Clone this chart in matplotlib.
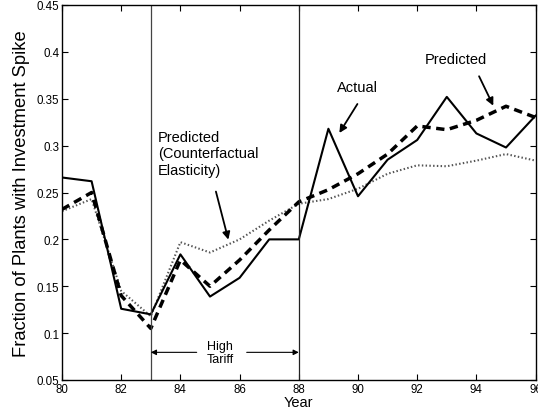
import matplotlib
matplotlib.use("Agg")
import matplotlib.pyplot as plt
from matplotlib.ticker import FixedLocator, FixedFormatter

plt.rcParams['font.family'] = ['Liberation Sans', 'DejaVu Sans']

years = [80, 81, 82, 83, 84, 85, 86, 87, 88, 89, 90, 91, 92, 93, 94, 95, 96]
actual = [0.266, 0.262, 0.126, 0.120, 0.184, 0.139, 0.159, 0.200, 0.200,
          0.318, 0.246, 0.285, 0.306, 0.352, 0.313, 0.298, 0.332]
predicted = [0.232, 0.250, 0.140, 0.105, 0.178, 0.150, 0.178, 0.210, 0.240,
             0.253, 0.270, 0.291, 0.321, 0.317, 0.327, 0.342, 0.330]
counterfactual = [0.230, 0.243, 0.145, 0.118, 0.197, 0.186, 0.200, 0.220, 0.238,
                  0.243, 0.254, 0.270, 0.279, 0.278, 0.284, 0.291, 0.284]

x_ticks = [80, 82, 84, 86, 88, 90, 92, 94, 96]
y_ticks = [0.05, 0.1, 0.15, 0.2, 0.25, 0.3, 0.35, 0.4, 0.45]
y_tick_labels = ["0.05", "0.1", "0.15", "0.2", "0.25", "0.3", "0.35", "0.4", "0.45"]
tariff_start, tariff_end = 83, 88

fig = plt.figure(figsize=(5.38, 4.14), dpi=100)
ax = fig.add_axes([62 / 538, 1 - 381 / 414, (535.6 - 62) / 538, (381 - 6) / 414])

ax.plot(years, counterfactual, color='#555555', lw=1.5, linestyle=(0, (0.7, 1.1)))
ax.plot(years, predicted, color='black', lw=2.5, linestyle=(0, (2.4, 1.6)))
ax.plot(years, actual, color='black', lw=1.5)

ax.axvline(tariff_start, color='#444444', lw=0.9)
ax.axvline(tariff_end, color='#222222', lw=0.9)

ax.set_xlim(80, 96)
ax.set_ylim(0.05, 0.45)
ax.xaxis.set_major_locator(FixedLocator(x_ticks))
ax.yaxis.set_major_locator(FixedLocator(y_ticks))
ax.yaxis.set_major_formatter(FixedFormatter(y_tick_labels))
ax.tick_params(direction='in', length=4, width=0.8, top=True, right=True,
               labelsize=8.3, pad=2)
for s in ax.spines.values():
    s.set_linewidth(1.0)

ax.set_xlabel("Year", fontsize=10.5, labelpad=0)
ax.set_ylabel("Fraction of Plants with Investment Spike", fontsize=13.2, labelpad=5)

arrow = dict(arrowstyle='-|>', color='black', lw=1.3, mutation_scale=11,
             shrinkA=0, shrinkB=0)
small_arrow = dict(arrowstyle='-|>', color='black', lw=0.8, mutation_scale=8,
                   shrinkA=0, shrinkB=0)

# High tariff period markers
ax.annotate("", xy=(tariff_start, 0.0795), xytext=(84.55, 0.0795), arrowprops=small_arrow)
ax.annotate("", xy=(tariff_end, 0.0795), xytext=(86.24, 0.0795), arrowprops=small_arrow)
ax.text(85.35, 0.0795, "High\nTariff", ha='center', va='center', fontsize=9,
        linespacing=1.15)

ax.text(83.25, 0.317, "Predicted\n(Counterfactual\nElasticity)", ha='left', va='top',
        fontsize=10.5, linespacing=1.25)
ax.annotate("", xy=(85.62, 0.1997), xytext=(85.2, 0.251), arrowprops=arrow)

ax.text(89.98, 0.362, "Actual", ha='center', va='center', fontsize=10.5)
ax.annotate("", xy=(89.37, 0.3135), xytext=(89.98, 0.3444), arrowprops=arrow)

ax.text(93.29, 0.3924, "Predicted", ha='center', va='center', fontsize=10.5)
ax.annotate("", xy=(94.57, 0.3426), xytext=(94.09, 0.374), arrowprops=arrow)

fig.savefig("out.png", dpi=100)
